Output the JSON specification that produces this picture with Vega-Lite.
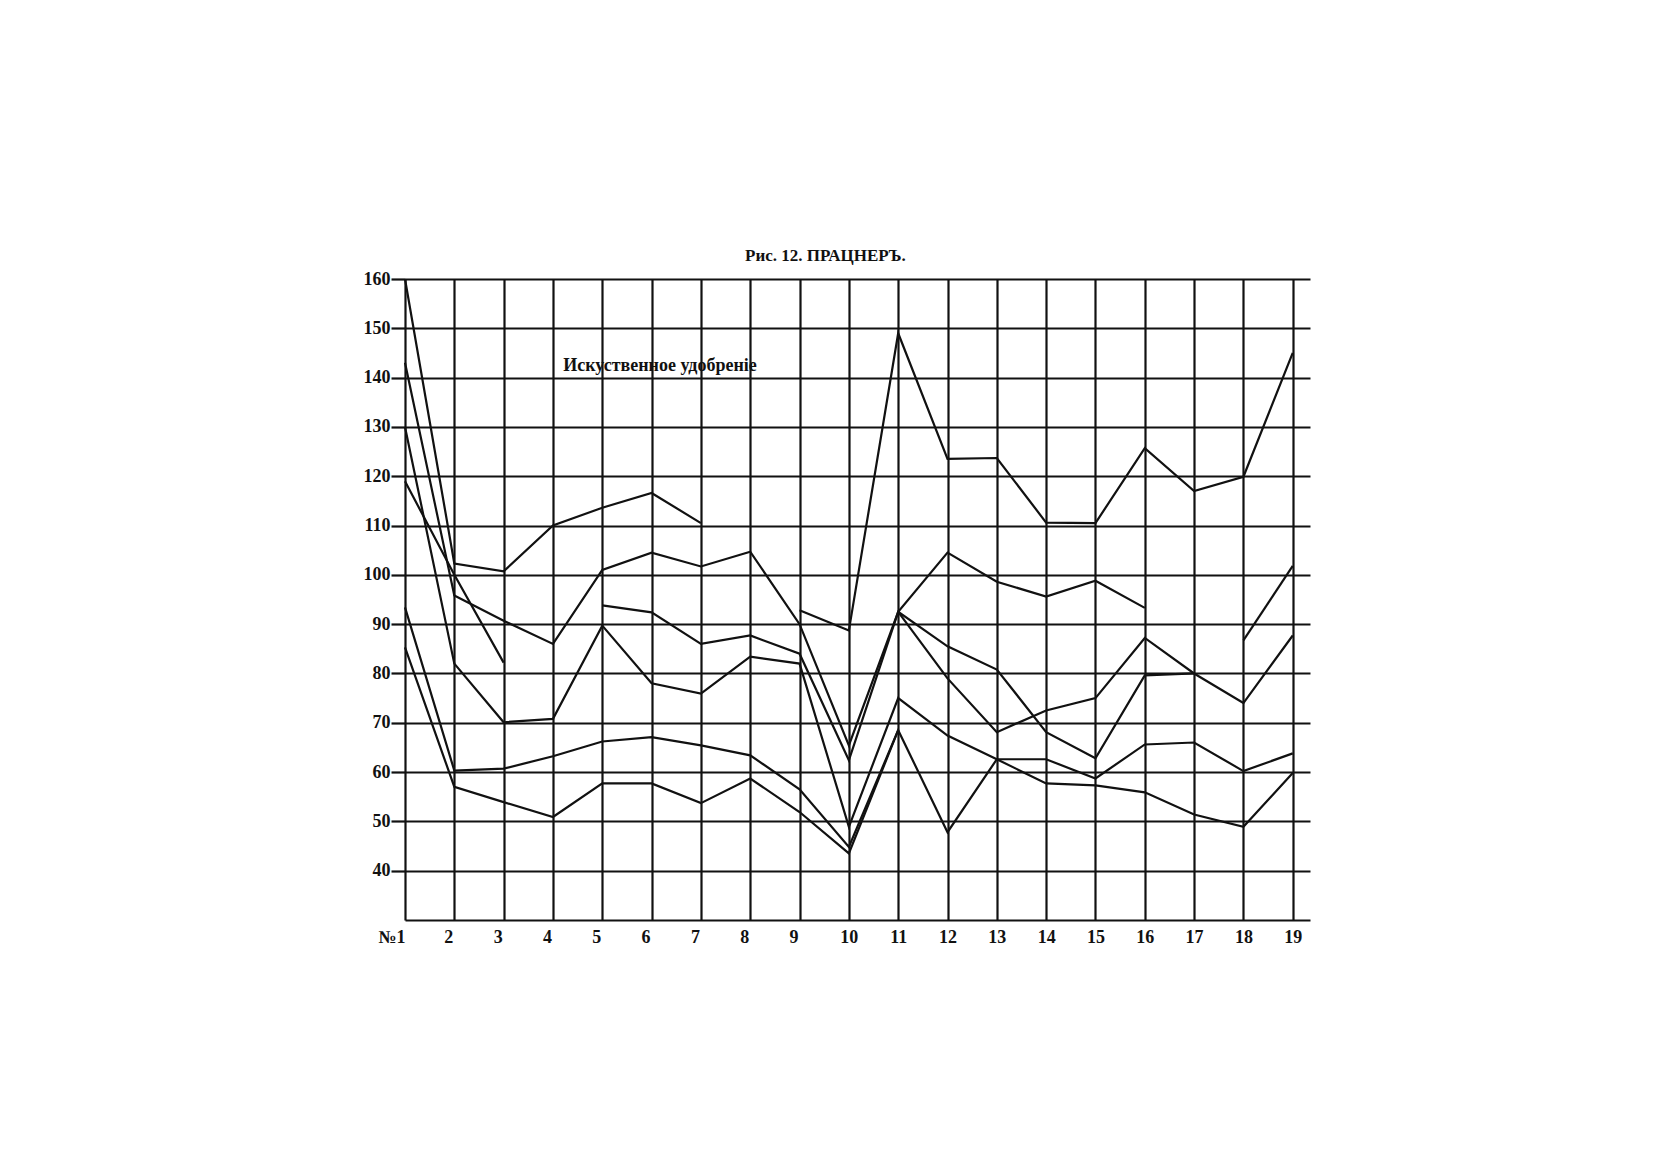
{
  "$schema": "https://vega.github.io/schema/vega-lite/v6.json",
  "autosize": {"type": "none"},
  "width": 905,
  "height": 641,
  "padding": {"left": 405, "top": 279, "right": 352, "bottom": 255},
  "background": "white",
  "view": {"stroke": null},
  "title": {
    "text": "Рис. 12. ПРАЦНЕРЪ.",
    "anchor": "start",
    "dx": 382,
    "offset": -8,
    "baseline": "alphabetic",
    "font": "Liberation Serif",
    "fontSize": 17,
    "fontWeight": "bold",
    "color": "#111"
  },
  "config": {
    "axis": {
      "labelFont": "Liberation Serif",
      "labelFontWeight": "bold",
      "labelFontSize": 18,
      "labelColor": "#111",
      "gridColor": "#111",
      "gridOpacity": 1,
      "gridWidth": 2.2,
      "tickColor": "#111",
      "tickWidth": 2.2,
      "domainColor": "#111",
      "domainWidth": 2.2,
      "title": null
    }
  },
  "layer": [
    {
      "data": {
        "values": [
          {"s": "a", "n": 1, "v": 160}, {"s": "a", "n": 2, "v": 102.3}, {"s": "a", "n": 3, "v": 100.7}, {"s": "a", "n": 4, "v": 110}, {"s": "a", "n": 5, "v": 113.6}, {"s": "a", "n": 6, "v": 116.6}, {"s": "a", "n": 7, "v": 110.5},

          {"s": "b", "n": 1, "v": 143}, {"s": "b", "n": 2, "v": 95.8}, {"s": "b", "n": 3, "v": 90.7}, {"s": "b", "n": 4, "v": 86}, {"s": "b", "n": 5, "v": 101}, {"s": "b", "n": 6, "v": 104.5}, {"s": "b", "n": 7, "v": 101.7}, {"s": "b", "n": 8, "v": 104.7}, {"s": "b", "n": 9, "v": 90}, {"s": "b", "n": 10, "v": 65.4}, {"s": "b", "n": 11, "v": 92.5}, {"s": "b", "n": 12, "v": 104.5}, {"s": "b", "n": 13, "v": 98.6}, {"s": "b", "n": 14, "v": 95.6}, {"s": "b", "n": 15, "v": 98.8}, {"s": "b", "n": 16, "v": 93.3},

          {"s": "c", "n": 1, "v": 119}, {"s": "c", "n": 2, "v": 100}, {"s": "c", "n": 3, "v": 82.2},

          {"s": "d", "n": 1, "v": 130}, {"s": "d", "n": 2, "v": 82}, {"s": "d", "n": 3, "v": 70.1}, {"s": "d", "n": 4, "v": 70.8}, {"s": "d", "n": 5, "v": 89.7}, {"s": "d", "n": 6, "v": 78}, {"s": "d", "n": 7, "v": 75.9}, {"s": "d", "n": 8, "v": 83.4}, {"s": "d", "n": 9, "v": 82}, {"s": "d", "n": 10, "v": 48.9}, {"s": "d", "n": 11, "v": 75}, {"s": "d", "n": 12, "v": 67.4}, {"s": "d", "n": 13, "v": 62.6}, {"s": "d", "n": 14, "v": 57.7}, {"s": "d", "n": 15, "v": 57.3}, {"s": "d", "n": 16, "v": 55.9}, {"s": "d", "n": 17, "v": 51.4}, {"s": "d", "n": 18, "v": 48.9}, {"s": "d", "n": 19, "v": 59.8},

          {"s": "e", "n": 5, "v": 93.8}, {"s": "e", "n": 6, "v": 92.4}, {"s": "e", "n": 7, "v": 86}, {"s": "e", "n": 8, "v": 87.7}, {"s": "e", "n": 9, "v": 84}, {"s": "e", "n": 10, "v": 62.4}, {"s": "e", "n": 11, "v": 92.5}, {"s": "e", "n": 12, "v": 85.5}, {"s": "e", "n": 13, "v": 80.8}, {"s": "e", "n": 14, "v": 68.1}, {"s": "e", "n": 15, "v": 62.8}, {"s": "e", "n": 16, "v": 79.6}, {"s": "e", "n": 17, "v": 80},

          {"s": "f", "n": 1, "v": 93.4}, {"s": "f", "n": 2, "v": 60.3}, {"s": "f", "n": 3, "v": 60.7}, {"s": "f", "n": 4, "v": 63.2}, {"s": "f", "n": 5, "v": 66.2}, {"s": "f", "n": 6, "v": 67.1}, {"s": "f", "n": 7, "v": 65.4}, {"s": "f", "n": 8, "v": 63.4}, {"s": "f", "n": 9, "v": 56.5}, {"s": "f", "n": 10, "v": 44.8}, {"s": "f", "n": 11, "v": 68.5}, {"s": "f", "n": 12, "v": 47.8}, {"s": "f", "n": 13, "v": 62.6}, {"s": "f", "n": 14, "v": 62.6}, {"s": "f", "n": 15, "v": 58.7}, {"s": "f", "n": 16, "v": 65.6}, {"s": "f", "n": 17, "v": 66}, {"s": "f", "n": 18, "v": 60.2}, {"s": "f", "n": 19, "v": 63.8},

          {"s": "g", "n": 1, "v": 85.3}, {"s": "g", "n": 2, "v": 57}, {"s": "g", "n": 3, "v": 53.9}, {"s": "g", "n": 4, "v": 50.9}, {"s": "g", "n": 5, "v": 57.7}, {"s": "g", "n": 6, "v": 57.7}, {"s": "g", "n": 7, "v": 53.7}, {"s": "g", "n": 8, "v": 58.7}, {"s": "g", "n": 9, "v": 51.9}, {"s": "g", "n": 10, "v": 43.5}, {"s": "g", "n": 11, "v": 68.5},

          {"s": "h", "n": 9, "v": 92.8}, {"s": "h", "n": 10, "v": 88.7}, {"s": "h", "n": 11, "v": 149}, {"s": "h", "n": 12, "v": 123.5}, {"s": "h", "n": 13, "v": 123.7}, {"s": "h", "n": 14, "v": 110.6}, {"s": "h", "n": 15, "v": 110.5}, {"s": "h", "n": 16, "v": 125.7}, {"s": "h", "n": 17, "v": 117}, {"s": "h", "n": 18, "v": 119.9}, {"s": "h", "n": 19, "v": 145},

          {"s": "i", "n": 11, "v": 92.5}, {"s": "i", "n": 12, "v": 79}, {"s": "i", "n": 13, "v": 68.1}, {"s": "i", "n": 14, "v": 72.5}, {"s": "i", "n": 15, "v": 75}, {"s": "i", "n": 16, "v": 87.2}, {"s": "i", "n": 17, "v": 80}, {"s": "i", "n": 18, "v": 74}, {"s": "i", "n": 19, "v": 87.7},

          {"s": "j", "n": 18, "v": 86.7}, {"s": "j", "n": 19, "v": 101.8}
        ]
      },
      "mark": {"type": "line", "color": "#111", "strokeWidth": 2.2, "strokeJoin": "miter"},
      "encoding": {
        "x": {
          "field": "n",
          "type": "quantitative",
          "scale": {"domain": [1, 19.35], "nice": false, "zero": false},
          "axis": {
            "values": [1, 2, 3, 4, 5, 6, 7, 8, 9, 10, 11, 12, 13, 14, 15, 16, 17, 18, 19],
            "labelExpr": "datum.value == 1 ? '№1' : datum.label",
            "grid": true,
            "ticks": false,
            "labelPadding": 8,
            "labelAlign": {"condition": {"test": "datum.value == 1", "value": "right"}, "value": "center"},
            "labelOffset": {"condition": {"test": "datum.value >= 2 && datum.value <= 9", "value": -6}, "value": 0}
          }
        },
        "y": {
          "field": "v",
          "type": "quantitative",
          "scale": {"domain": [30, 160], "nice": false, "zero": false},
          "axis": {
            "values": [40, 50, 60, 70, 80, 90, 100, 110, 120, 130, 140, 150, 160],
            "grid": true,
            "domain": false,
            "tickSize": 14,
            "labelPadding": 1
          }
        },
        "detail": {"field": "s"},
        "order": {"field": "n"}
      }
    },
    {
      "data": {"values": [{"n": 6.17, "v": 142.3, "label": "Искуственное удобреніе"}]},
      "mark": {
        "type": "text",
        "font": "Liberation Serif",
        "fontWeight": "bold",
        "fontSize": 18,
        "color": "#111",
        "align": "center",
        "baseline": "middle"
      },
      "encoding": {
        "x": {"field": "n", "type": "quantitative"},
        "y": {"field": "v", "type": "quantitative"},
        "text": {"field": "label"}
      }
    }
  ]
}
